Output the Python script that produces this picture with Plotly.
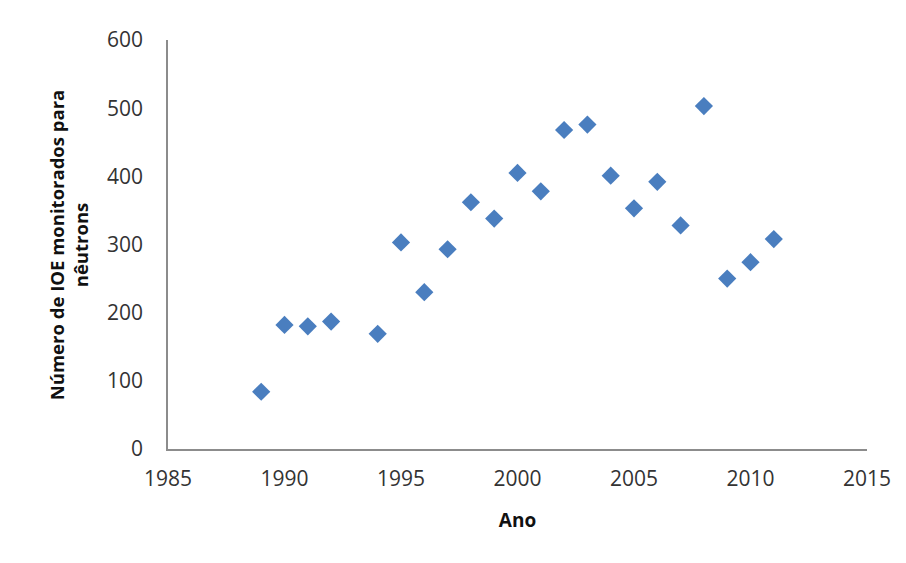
import plotly.graph_objects as go

years = [1989, 1990, 1991, 1992, 1994, 1995, 1996, 1997, 1998, 1999, 2000,
         2001, 2002, 2003, 2004, 2005, 2006, 2007, 2008, 2009, 2010, 2011]
counts = [84, 182, 180, 187, 169, 303, 230, 293, 362, 338, 405,
          378, 468, 476, 401, 353, 392, 328, 503, 250, 274, 308]

x_ticks = [1985, 1990, 1995, 2000, 2005, 2010, 2015]
y_ticks = [0, 100, 200, 300, 400, 500, 600]

fig = go.Figure(go.Scatter(
    x=years, y=counts, mode="markers",
    marker=dict(symbol="diamond", size=14, color="#4A7EBF", line=dict(width=0)),
    showlegend=False,
))

font_family = "Open Sans, Liberation Sans, sans-serif"

fig.update_layout(
    width=906, height=563,
    margin=dict(l=160, r=47, t=32, b=122),
    paper_bgcolor="white", plot_bgcolor="white",
    font=dict(family=font_family, size=21, color="#333333"),
)
fig.update_xaxes(
    range=[1985, 2015], tickvals=x_ticks, ticktext=[str(v) for v in x_ticks],
    showgrid=False, zeroline=False, showline=True, linecolor="#8c8c8c", linewidth=1.5,
    ticks="", ticklabelstandoff=10,
    title=dict(text="<b>Ano</b>", font=dict(size=19, color="#111111"), standoff=23),
)
fig.update_yaxes(
    range=[0, 600], tickvals=y_ticks, ticktext=[str(v) for v in y_ticks],
    showgrid=False, zeroline=False, showline=True, linecolor="#8c8c8c", linewidth=1.5,
    ticks="", ticklabelstandoff=19,
)
fig.add_annotation(
    text="<b>Número de IOE monitorados para<br>nêutrons</b>",
    xref="paper", yref="paper", x=-0.142, y=0.5, xanchor="center", yanchor="middle",
    textangle=-90, showarrow=False, align="center",
    font=dict(size=18.5, color="#111111", family=font_family),
)

fig.write_html("out.html")
